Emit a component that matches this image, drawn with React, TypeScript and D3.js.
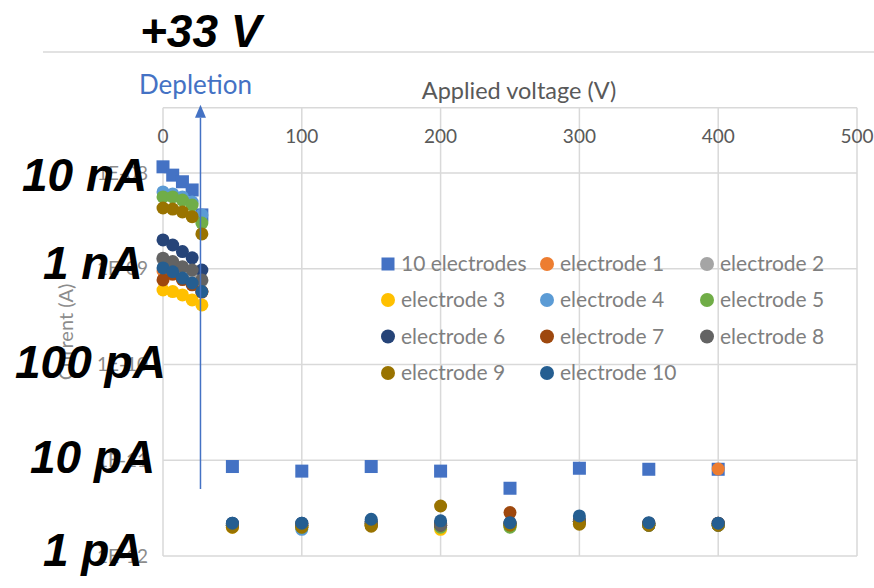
import React from "react";
import * as d3 from "d3";

// ---- data ----
const voltages = [0, 7, 14, 21, 28, 50, 100, 150, 200, 250, 300, 350, 400];

const seriesNames = [
  "10 electrodes",
  "electrode 1",
  "electrode 2",
  "electrode 3",
  "electrode 4",
  "electrode 5",
  "electrode 6",
  "electrode 7",
  "electrode 8",
  "electrode 9",
  "electrode 10",
];

const seriesColors = [
  "#4472C4",
  "#ED7D31",
  "#A5A5A5",
  "#FFC000",
  "#5B9BD5",
  "#70AD47",
  "#264478",
  "#9E480E",
  "#636363",
  "#997300",
  "#255E91",
];

// currents in A
const tenElectrodes = [11.6e-9, 9.5e-9, 8.1e-9, 6.65e-9, 3.65e-9, 8.6e-12, 7.7e-12, 8.6e-12, 7.7e-12, 5.1e-12, 8.25e-12, 8.05e-12, 8.05e-12];
const electrode1 = [0.95e-9, 0.88e-9, 0.78e-9, 0.7e-9, 0.58e-9, 2.1e-12, 2.1e-12, 2.2e-12, 2.1e-12, 2.1e-12, 2.3e-12, 2.1e-12, 8.1e-12];
const electrode2 = [1.25e-9, 1.15e-9, 1.0e-9, 0.9e-9, 0.75e-9, 2.1e-12, 2.0e-12, 2.2e-12, 2.1e-12, 2.1e-12, 2.3e-12, 2.1e-12, 2.1e-12];
const electrode3 = [0.6e-9, 0.577e-9, 0.533e-9, 0.472e-9, 0.419e-9, 2.0e-12, 2.0e-12, 2.1e-12, 1.9e-12, 2.1e-12, 2.2e-12, 2.1e-12, 2.1e-12];
const electrode4 = [6.34e-9, 6.04e-9, 5.62e-9, 4.98e-9, 3.65e-9, 2.1e-12, 1.9e-12, 2.2e-12, 2.1e-12, 2.1e-12, 2.3e-12, 2.1e-12, 2.1e-12];
const electrode5 = [5.62e-9, 5.62e-9, 5.22e-9, 4.63e-9, 3.0e-9, 2.1e-12, 2.0e-12, 2.1e-12, 2.0e-12, 2.0e-12, 2.3e-12, 2.1e-12, 2.1e-12];
const electrode6 = [2.0e-9, 1.77e-9, 1.51e-9, 1.3e-9, 0.97e-9, 2.2e-12, 2.2e-12, 2.3e-12, 2.2e-12, 2.2e-12, 2.4e-12, 2.2e-12, 2.2e-12];
const electrode7 = [0.764e-9, 0.88e-9, 0.77e-9, 0.68e-9, 0.57e-9, 2.1e-12, 2.1e-12, 2.1e-12, 2.1e-12, 2.84e-12, 2.3e-12, 2.2e-12, 2.2e-12];
const electrode8 = [1.29e-9, 1.19e-9, 1.05e-9, 0.97e-9, 0.764e-9, 2.1e-12, 2.1e-12, 2.2e-12, 2.1e-12, 2.2e-12, 2.3e-12, 2.1e-12, 2.1e-12];
const electrode9 = [4.31e-9, 4.2e-9, 3.92e-9, 3.5e-9, 2.31e-9, 2.0e-12, 2.0e-12, 2.05e-12, 3.33e-12, 2.1e-12, 2.15e-12, 2.1e-12, 2.1e-12];
const electrode10 = [1.02e-9, 0.93e-9, 0.8e-9, 0.71e-9, 0.577e-9, 2.2e-12, 2.2e-12, 2.42e-12, 2.33e-12, 2.23e-12, 2.62e-12, 2.23e-12, 2.2e-12];

const seriesValues = [
  tenElectrodes,
  electrode1,
  electrode2,
  electrode3,
  electrode4,
  electrode5,
  electrode6,
  electrode7,
  electrode8,
  electrode9,
  electrode10,
];

const xTicks = [0, 100, 200, 300, 400, 500];
const yTicks = [1e-8, 1e-9, 1e-10, 1e-11, 1e-12];
const yTickLabels = ["1E-08", "1E-09", "1E-10", "1E-11", "1E-12"];
const currentLabels = ["10 nA", "1 nA", "100 pA", "10 pA", "1 pA"];
const depletionVoltage = 27;
const arrowBottomCurrent = 5e-12;
const axisTopCurrent = 4.8e-8;

// ---- layout ----
const W = 874;
const H = 588;
const plotLeft = 163;
const plotRight = 857;
const x = d3.scaleLinear().domain([0, 500]).range([plotLeft, plotRight]);
const y = d3.scaleLog().domain([1e-12, 1e-8]).range([556, 173]);
const plotTop = y(axisTopCurrent);
const plotBottom = y(1e-12);

const labelX = [22, 43, 15, 30, 43];
const labelDy = [18, 10, 13, 13, 10];

const gridColor = "#D9D9D9";
const textGray = "#595959";
const sans = "Lato, 'Open Sans', sans-serif";
const bold = "'Liberation Sans', Arial, sans-serif";

export default function App() {
  const legendCols = [388, 547, 707];
  const legendRows = [264, 300, 336.5, 373];

  return (
    <svg
      width={W}
      height={H}
      style={{ position: "absolute", left: 0, top: 0, background: "#fff" }}
    >
      <rect x={0} y={0} width={W} height={H} fill="#fff" />
      {/* separator line */}
      <line x1={43} x2={W} y1={52} y2={52} stroke={gridColor} strokeWidth={1.5} />

      {/* gridlines */}
      {xTicks.map((t) => (
        <line key={"vx" + t} x1={x(t)} x2={x(t)} y1={plotTop} y2={plotBottom} stroke={gridColor} strokeWidth={1.5} />
      ))}
      {yTicks.map((t) => (
        <line key={"hy" + t} x1={plotLeft} x2={plotRight} y1={y(t)} y2={y(t)} stroke={gridColor} strokeWidth={1.5} />
      ))}
      <line x1={plotLeft} x2={plotRight} y1={plotTop} y2={plotTop} stroke={gridColor} strokeWidth={1.5} />

      {/* x tick labels */}
      {xTicks.map((t) => (
        <text key={"xl" + t} x={x(t)} y={143} textAnchor="middle" fontFamily={sans} fontSize={19} fill={textGray}>
          {t}
        </text>
      ))}
      <text x={519} y={99} textAnchor="middle" fontFamily={sans} fontSize={23.5} fill={textGray}>
        Applied voltage (V)
      </text>

      {/* y tick labels */}
      {yTicks.map((t, i) => (
        <text key={"yl" + t} x={148} y={y(t)} dy="0.35em" textAnchor="end" fontFamily={sans} fontSize={19} fill="#8C8C8C">
          {yTickLabels[i]}
        </text>
      ))}
      <text
        transform={`translate(66, ${(plotTop + plotBottom) / 2}) rotate(-90)`}
        textAnchor="middle"
        dy="0.35em"
        fontFamily={sans}
        fontSize={20}
        fill="#8C8C8C"
      >
        Current (A)
      </text>

      {/* data markers */}
      {seriesValues.map((vals, si) =>
        vals.map((v, i) =>
          si === 0 ? (
            <rect
              key={`s${si}-${i}`}
              x={x(voltages[i]) - 6.5}
              y={y(v) - 6.5}
              width={13}
              height={13}
              fill={seriesColors[si]}
            />
          ) : (
            <circle key={`s${si}-${i}`} cx={x(voltages[i])} cy={y(v)} r={6.5} fill={seriesColors[si]} />
          )
        )
      )}

      {/* depletion arrow */}
      <line
        x1={x(depletionVoltage)}
        x2={x(depletionVoltage)}
        y1={plotTop + 10}
        y2={y(arrowBottomCurrent)}
        stroke="#4472C4"
        strokeWidth={1.5}
      />
      <path
        d={`M${x(depletionVoltage)},${plotTop - 3} l-5.5,13 l11,0 z`}
        fill="#4472C4"
      />
      <text x={139} y={94} fontFamily={sans} fontSize={26} fill="#4472C4">
        Depletion
      </text>

      {/* legend */}
      {seriesNames.map((name, i) => {
        const cx = legendCols[i % 3];
        const cy = legendRows[Math.floor(i / 3)];
        return (
          <g key={"lg" + i}>
            {i === 0 ? (
              <rect x={cx - 6.5} y={cy - 6.5} width={13} height={13} fill={seriesColors[i]} />
            ) : (
              <circle cx={cx} cy={cy} r={7} fill={seriesColors[i]} />
            )}
            <text x={cx + 13} y={cy} dy="0.35em" fontFamily={sans} fontSize={21} fill="#7F7F7F">
              {name}
            </text>
          </g>
        );
      })}

      {/* big overlay labels */}
      <text x={140} y={47} fontFamily={bold} fontWeight="bold" fontStyle="italic" fontSize={46} fill="#000">
        +33 V
      </text>
      {currentLabels.map((lab, i) => (
        <text
          key={"cl" + i}
          x={labelX[i]}
          y={y(yTicks[i]) + labelDy[i]}
          fontFamily={bold}
          fontWeight="bold"
          fontStyle="italic"
          fontSize={46}
          fill="#000"
        >
          {lab}
        </text>
      ))}
    </svg>
  );
}
